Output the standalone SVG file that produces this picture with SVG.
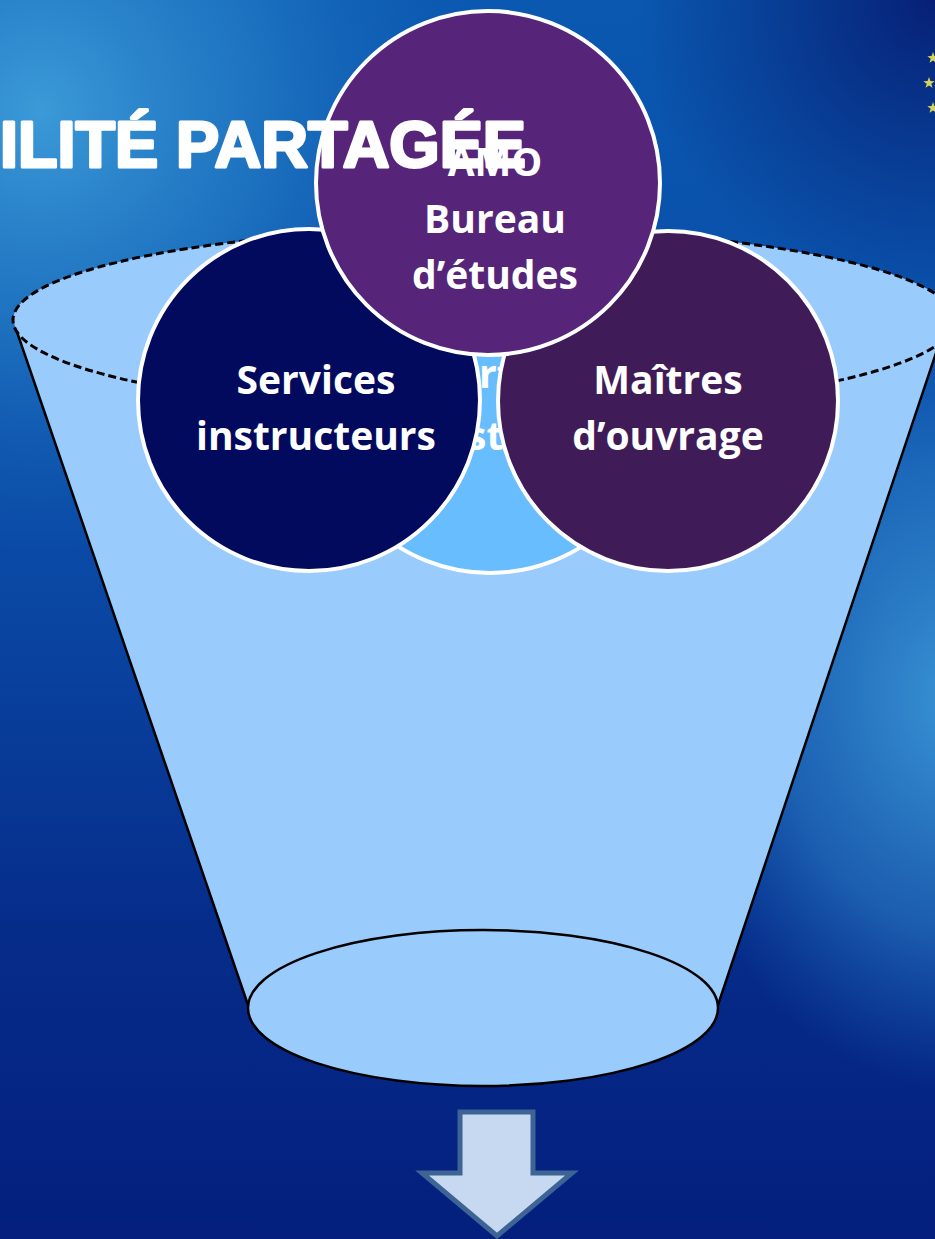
<svg xmlns="http://www.w3.org/2000/svg" width="935" height="1239" viewBox="0 0 935 1239">
  <defs>
    <linearGradient id="bgLin" x1="0" y1="0" x2="0" y2="1">
      <stop offset="0" stop-color="#0a58b0"/>
      <stop offset="0.45" stop-color="#0a4aa6"/>
      <stop offset="0.75" stop-color="#062c8a"/>
      <stop offset="1" stop-color="#041f7e"/>
    </linearGradient>
    <radialGradient id="glowTL" cx="40" cy="110" r="440" gradientUnits="userSpaceOnUse">
      <stop offset="0" stop-color="#3c9ad8" stop-opacity="1"/>
      <stop offset="0.5" stop-color="#2a86cc" stop-opacity="0.6"/>
      <stop offset="1" stop-color="#1a6cc0" stop-opacity="0"/>
    </radialGradient>
    <radialGradient id="glowR" cx="960" cy="700" r="300" gradientUnits="userSpaceOnUse" gradientTransform="translate(960 700) scale(1 1.3) translate(-960 -700)">
      <stop offset="0" stop-color="#3a95d5" stop-opacity="1"/>
      <stop offset="0.6" stop-color="#2a7cc6" stop-opacity="0.6"/>
      <stop offset="1" stop-color="#1a6cc0" stop-opacity="0"/>
    </radialGradient>
    <radialGradient id="darkTR" cx="935" cy="0" r="300" gradientUnits="userSpaceOnUse">
      <stop offset="0" stop-color="#061a70" stop-opacity="0.9"/>
      <stop offset="1" stop-color="#061a70" stop-opacity="0"/>
    </radialGradient>
    <polygon id="star" points="0,-6 1.41,-1.94 5.71,-1.85 2.28,0.74 3.53,4.85 0,2.4 -3.53,4.85 -2.28,0.74 -5.71,-1.85 -1.41,-1.94"/>
    <style>
      .circ { stroke: #ffffff; stroke-width: 4; }
      .lbl { font-family: "Open Sans", "Noto Sans", "Liberation Sans", sans-serif; font-weight: bold; font-size: 39px; fill: #ffffff; text-anchor: middle; }
      .frag { font-family: "Open Sans", "Noto Sans", "Liberation Sans", sans-serif; font-weight: bold; font-size: 39px; fill: #ffffff; }
      .title { font-family: "Liberation Sans", "Arial", sans-serif; font-weight: bold; font-size: 64px; fill: #ffffff; stroke: #ffffff; stroke-width: 3; stroke-linejoin: round; }
    </style>
  </defs>

  <g id="background">
    <rect x="0" y="0" width="935" height="1239" fill="url(#bgLin)"/>
    <rect x="0" y="0" width="935" height="1239" fill="url(#glowTL)"/>
    <rect x="0" y="0" width="935" height="1239" fill="url(#glowR)"/>
    <rect x="0" y="0" width="935" height="1239" fill="url(#darkTR)"/>
    <g id="eu-stars" fill="#d6d35a">
      <use href="#star" x="933" y="58"/>
      <use href="#star" x="929" y="83"/>
      <use href="#star" x="933" y="108"/>
    </g>
  </g>

  <g id="funnel">
    <path d="M 13,320 A 471,92 0 0 1 955,320 L 943,332 L 718,1005 L 248,1005 L 17,332 Z" fill="#99ccfd"/>
    <line x1="17" y1="332" x2="248" y2="1005" stroke="#000" stroke-width="2.5"/>
    <line x1="943" y1="332" x2="718" y2="1005" stroke="#000" stroke-width="2.5"/>
    <ellipse cx="484" cy="320" rx="471" ry="92" fill="none" stroke="#000" stroke-width="3" stroke-dasharray="8 4"/>
    <ellipse cx="483" cy="1008" rx="235" ry="78" fill="#99ccfd" stroke="#000" stroke-width="2.5"/>
  </g>

  <g id="node-middle">
    <circle class="circ" cx="490" cy="401" r="172" fill="#68bdff"/>
    <text class="frag" x="479" y="388">rf</text>
    <text class="frag" x="467" y="450">st</text>
  </g>

  <g id="node-services">
    <circle class="circ" cx="309" cy="400" r="171" fill="#020a5e"/>
    <text class="lbl" x="316" y="394">Services</text>
    <text class="lbl" x="316" y="450">instructeurs</text>
  </g>

  <g id="node-maitres">
    <circle class="circ" cx="668" cy="401" r="170" fill="#3f1c58"/>
    <text class="lbl" x="668" y="394">Maîtres</text>
    <text class="lbl" x="668" y="450">d’ouvrage</text>
  </g>

  <g id="node-amo">
    <circle class="circ" cx="488" cy="183" r="172" fill="#56257a"/>
    <text class="lbl" x="495" y="176">AMO</text>
    <text class="lbl" x="495" y="233">Bureau</text>
    <text class="lbl" x="495" y="289">d’études</text>
  </g>

  <g id="title">
    <text class="title" x="0" y="167" textLength="526" lengthAdjust="spacingAndGlyphs">ILITÉ PARTAGÉE</text>
  </g>

  <g id="connectors">
    <polygon points="460,1112 533,1112 533,1173 572,1173 497,1236 422,1173 460,1173" fill="#c6d9f0" stroke="#3d6494" stroke-width="5" stroke-linejoin="miter"/>
  </g>
</svg>
